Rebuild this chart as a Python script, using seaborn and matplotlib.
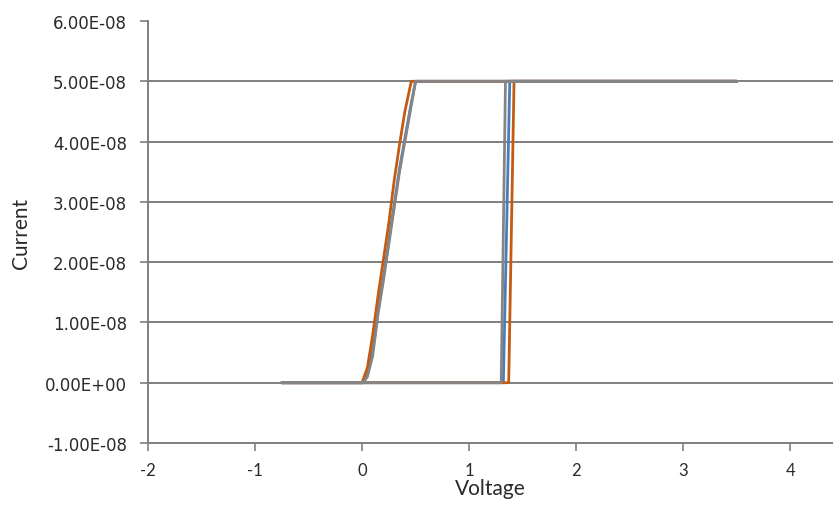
import matplotlib
matplotlib.use("Agg")
import matplotlib.pyplot as plt
from matplotlib.ticker import MultipleLocator, FuncFormatter
import seaborn as sns
import pandas as pd

# I-V sweeps of three cycles: forward SET jump to compliance, then return through the ohmic region
v_cycle1 = [-0.75, 1.32, 1.38, 3.5, 0.50, 0.45, 0.40, 0.35, 0.30, 0.25, 0.20, 0.15, 0.10, 0.05, 0.00, -0.75]
i_cycle1 = [0.0, 0.0, 5.0e-8, 5.0e-8, 5.0e-8, 4.55e-8, 4.05e-8, 3.55e-8, 2.95e-8, 2.35e-8, 1.75e-8, 1.2e-8, 0.55e-8, 0.12e-8, 0.0, 0.0]

v_cycle2 = [-0.75, 1.37, 1.42, 3.5, 0.46, 0.40, 0.35, 0.30, 0.25, 0.20, 0.15, 0.10, 0.05, 0.00, -0.75]
i_cycle2 = [0.0, 0.0, 5.0e-8, 5.0e-8, 5.0e-8, 4.5e-8, 3.95e-8, 3.35e-8, 2.65e-8, 2.05e-8, 1.45e-8, 0.8e-8, 0.25e-8, 0.0, 0.0]

v_cycle3 = [-0.75, 1.30, 1.34, 3.5, 0.50, 0.45, 0.40, 0.35, 0.30, 0.25, 0.20, 0.15, 0.10, 0.05, 0.01, -0.75]
i_cycle3 = [0.0, 0.0, 5.0e-8, 5.0e-8, 5.0e-8, 4.5e-8, 4.0e-8, 3.5e-8, 2.9e-8, 2.3e-8, 1.7e-8, 1.15e-8, 0.45e-8, 0.1e-8, 0.0, 0.0]

cycle_names = ["1", "2", "3"]
cycle_colors = ["#4a7ebb", "#c55a11", "#858585"]

frames = []
for name, v, i in zip(cycle_names, [v_cycle1, v_cycle2, v_cycle3], [i_cycle1, i_cycle2, i_cycle3]):
    frames.append(pd.DataFrame({"Voltage": v, "Current": i, "cycle": name, "step": range(len(v))}))
df = pd.concat(frames, ignore_index=True)

sns.set_style("white")
plt.rcParams["font.family"] = ["DejaVu Sans"]

fig = plt.figure(figsize=(8.33, 5.06), dpi=100)
ax = fig.add_axes([148 / 833, (506 - 444) / 506, (833 - 148) / 833, (444 - 22) / 506])

# horizontal gridlines
for y in [0.0, 1e-8, 2e-8, 3e-8, 4e-8, 5e-8]:
    ax.axhline(y, color="#7f7f7f", lw=1.4, zorder=1)

for name, color in zip(cycle_names, cycle_colors):
    sub = df[df["cycle"] == name]
    sns.lineplot(data=sub, x="Voltage", y="Current", sort=False, estimator=None,
                 color=color, lw=2.0, ax=ax, zorder=3, legend=False)

ax.set_xlim(-2, 4.40)
ax.set_ylim(-1e-8, 6e-8)
ax.xaxis.set_major_locator(MultipleLocator(1))
ax.yaxis.set_major_locator(MultipleLocator(1e-8))
ax.yaxis.set_major_formatter(FuncFormatter(lambda v, p: f"{v:.2E}"))
ax.xaxis.set_major_formatter(FuncFormatter(lambda v, p: f"{v:.0f}" if v <= 4 else ""))

for s in ["top", "right"]:
    ax.spines[s].set_visible(False)
for s in ["left", "bottom"]:
    ax.spines[s].set_color("#7f7f7f")
    ax.spines[s].set_linewidth(1.4)

ax.tick_params(axis="y", direction="out", length=6, width=1.2, color="#7f7f7f",
               labelsize=12, labelcolor="#2a2a2a", pad=9, left=True)
ax.tick_params(axis="x", direction="out", length=6, width=1.2, color="#7f7f7f",
               labelsize=12, labelcolor="#2a2a2a", pad=8, bottom=True)
for lbl in ax.get_xticklabels():
    lbl.set_family("Lato")

ax.set_xlabel("Voltage", fontsize=15, family="Lato", color="#2a2a2a", labelpad=0)
ax.set_ylabel("Current", fontsize=15, family="Lato", color="#2a2a2a", labelpad=10)

fig.savefig("out.png", dpi=100)
